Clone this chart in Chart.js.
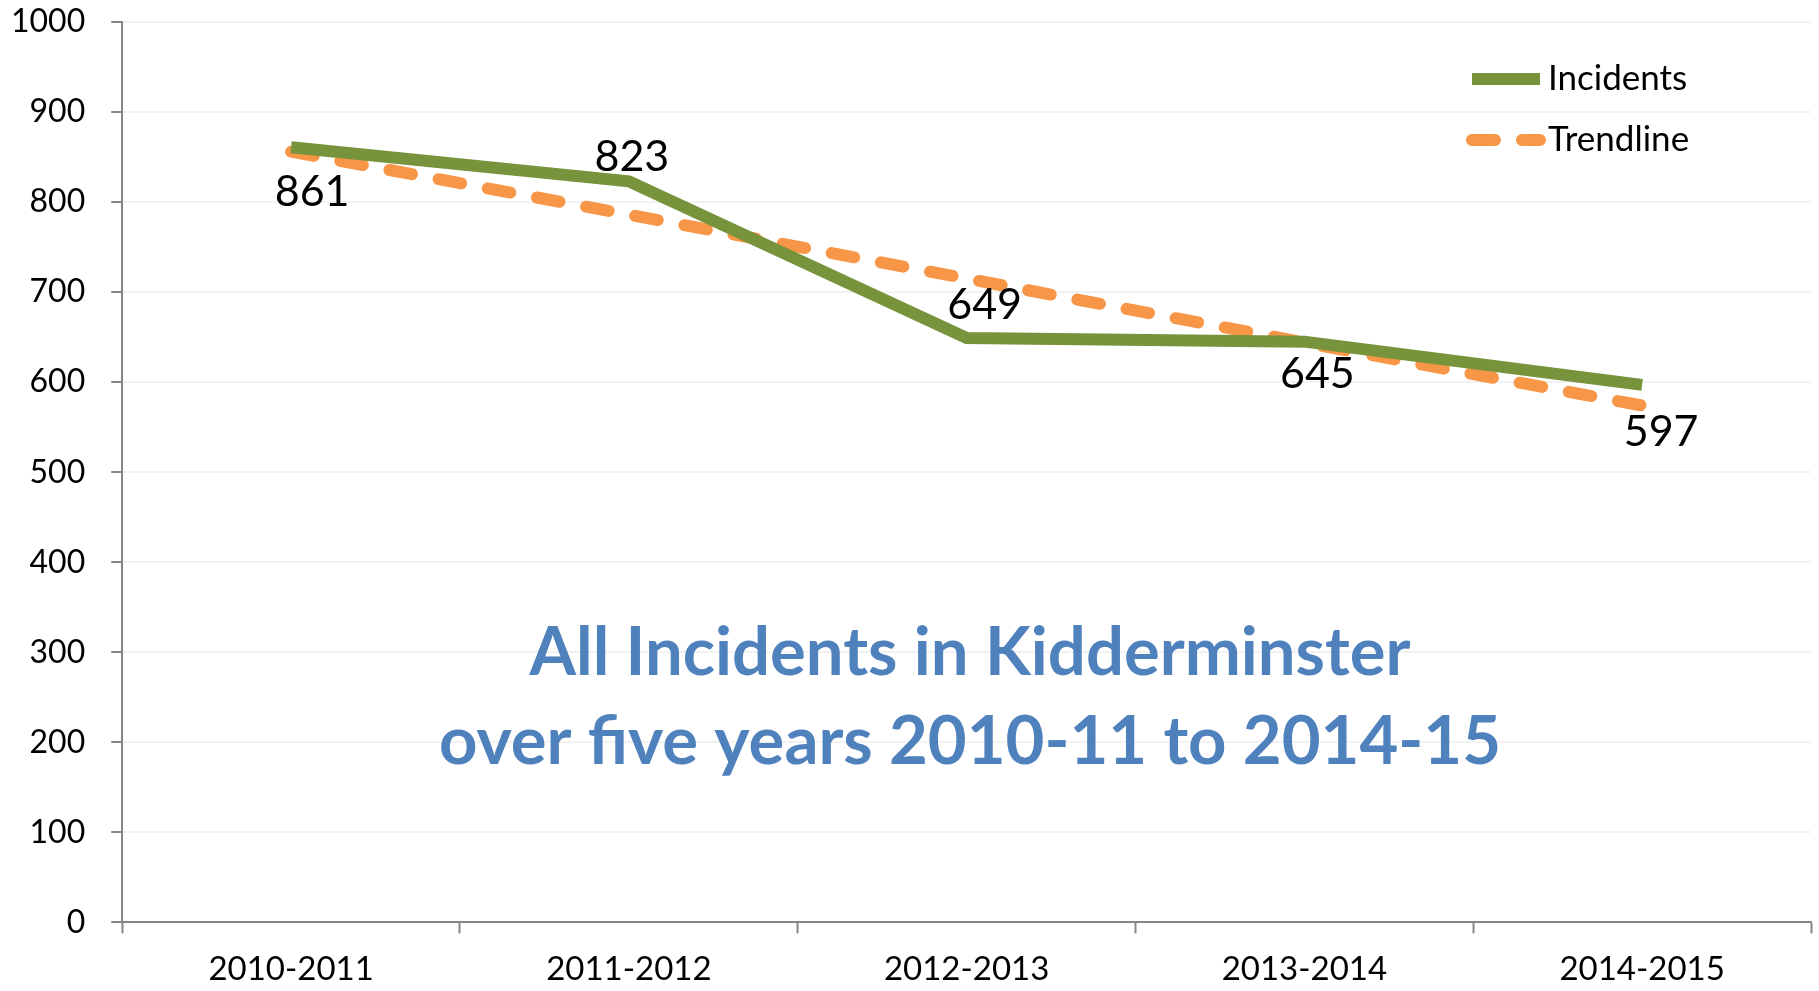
<!DOCTYPE html>
<html>
<head>
<meta charset="utf-8">
<script src="https://cdn.jsdelivr.net/npm/chart.js@4/dist/chart.umd.min.js"></script>
<style>
  html, body { margin: 0; padding: 0; background: #fff; }
  #wrap { width: 1819px; height: 991px; }
</style>
</head>
<body>
<div id="wrap"><canvas id="incidents_chart"></canvas></div>
<script>
const years = ["2010-2011", "2011-2012", "2012-2013", "2013-2014", "2014-2015"];
const incidents = [861, 823, 649, 645, 597];
const trendline = [856, 786, 715, 644, 574];
const yTicks = [0, 100, 200, 300, 400, 500, 600, 700, 800, 900, 1000];
const titleLines = ["All Incidents in Kidderminster", "over five years 2010-11 to 2014-15"];

// label offsets (px) for each incident value: [dx, dy]
const labelOffsets = [[21, 45], [3, -24], [18, -33], [13, 32], [19, 47]];

const FONT = "Lato, 'Open Sans', sans-serif";

const valueLabels = {
    id: "valueLabels",
    afterDatasetsDraw(chart) {
        const ctx = chart.ctx;
        const meta = chart.getDatasetMeta(0);
        ctx.save();
        ctx.font = "43px " + FONT;
        ctx.fillStyle = "#000";
        ctx.textAlign = "center";
        ctx.textBaseline = "middle";
        meta.data.forEach((pt, i) => {
            const off = labelOffsets[i];
            ctx.fillText(String(incidents[i]), pt.x + off[0], pt.y + off[1]);
        });
        ctx.restore();
    }
};

const centerTitle = {
    id: "centerTitle",
    beforeDatasetsDraw(chart) {
        const ctx = chart.ctx;
        ctx.save();
        ctx.font = "bold 67px " + FONT;
        ctx.fillStyle = "#4f81bd";
        ctx.textAlign = "center";
        ctx.textBaseline = "middle";
        ctx.fillText(titleLines[0], 970, 653);
        ctx.fillText(titleLines[1], 970, 742);
        ctx.restore();
    }
};

const sideLegend = {
    id: "sideLegend",
    afterDraw(chart) {
        const ctx = chart.ctx;
        ctx.save();
        ctx.font = "35px " + FONT;
        ctx.fillStyle = "#000";
        ctx.textBaseline = "middle";
        const rows = [79, 140];
        chart.data.datasets.forEach((ds, i) => {
            const y = rows[i];
            ctx.strokeStyle = ds.borderColor;
            ctx.lineWidth = ds.borderWidth;
            ctx.lineCap = ds.borderCapStyle || "butt";
            ctx.setLineDash(ds.borderDash || []);
            ctx.beginPath();
            ctx.moveTo(1472, y);
            ctx.lineTo(1540, y);
            ctx.stroke();
            ctx.setLineDash([]);
            ctx.fillText(ds.label, 1548, y);
        });
        ctx.restore();
    }
};

const ctx = document.getElementById("incidents_chart");
const incidents_chart = new Chart(ctx, {
    type: 'line',
    data: {
        labels: years,
        datasets: [{
            label: "Incidents",
            data: incidents,
            borderColor: "#77933c",
            backgroundColor: "#77933c",
            borderWidth: 12,
            pointRadius: 0,
            tension: 0,
            borderJoinStyle: "miter"
        }, {
            label: "Trendline",
            data: trendline,
            borderColor: "#f79646",
            backgroundColor: "#f79646",
            borderWidth: 12,
            borderDash: [23, 27],
            borderCapStyle: "round",
            pointRadius: 0,
            tension: 0
        }]
    },
    options: {
        responsive: true,
        maintainAspectRatio: false,
        animation: false,
        layout: {
            padding: { top: 22, right: 8, left: -15, bottom: -14 }
        },
        plugins: {
            legend: { display: false },
            tooltip: { enabled: false }
        },
        scales: {
            x: {
                offset: true,
                grid: {
                    offset: true,
                    drawOnChartArea: false,
                    tickLength: 11,
                    tickColor: "#868686",
                    tickWidth: 2
                },
                border: { color: "#868686", width: 2 },
                ticks: {
                    color: "#000",
                    font: { family: FONT, size: 33 },
                    padding: 16
                }
            },
            y: {
                min: 0,
                max: 1000,
                afterBuildTicks(scale) {
                    scale.ticks = yTicks.map(v => ({ value: v }));
                },
                afterFit(scale) {
                    scale.paddingTop = 0;
                },
                grid: {
                    color: "#f2f2f2",
                    lineWidth: 2,
                    tickLength: 11,
                    tickColor: "#868686",
                    tickWidth: 2
                },
                border: { color: "#868686", width: 2 },
                ticks: {
                    color: "#000",
                    font: { family: FONT, size: 32 },
                    padding: 26,
                    callback: v => String(v)
                }
            }
        }
    },
    plugins: [centerTitle, valueLabels, sideLegend]
});
</script>
</body>
</html>
